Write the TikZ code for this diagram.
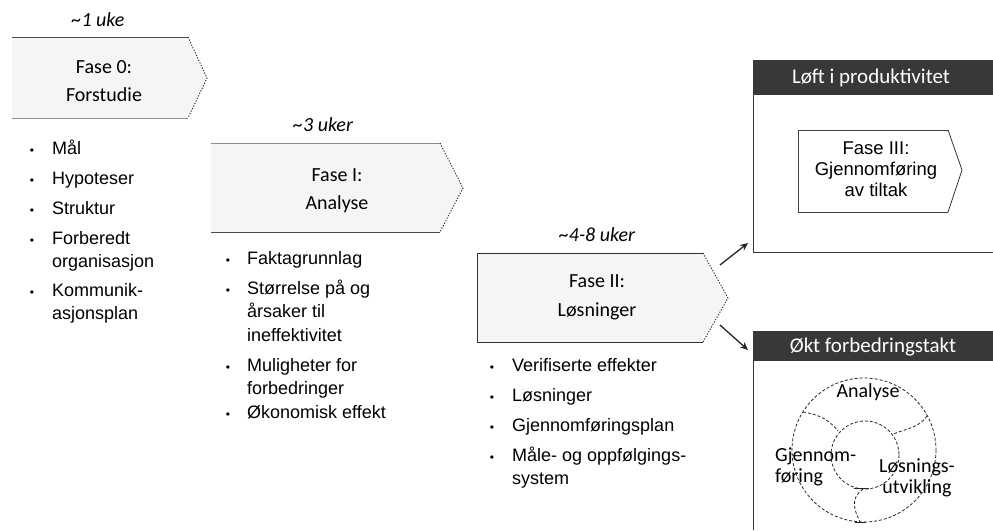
\documentclass[tikz,border=0pt]{standalone}
\usepackage{fontspec}
\setmainfont{Liberation Sans}
\newfontfamily\calfont{Carlito}
\usetikzlibrary{arrows.meta}
\newcommand{\itemlines}[1]{\begin{tabular}[t]{@{}l@{}}#1\end{tabular}}
\begin{document}
\begin{tikzpicture}[x=1pt,y=-1pt,
  boxfill/.style={fill=black!4, draw=none},
  solidedge/.style={draw=black!70, line width=1pt},
  dotedge/.style={draw=black!85, line width=0.9pt, dash pattern=on 1.2pt off 1.6pt},
  phase/.style={font=\calfont\fontsize{20}{28}\selectfont, align=center, inner sep=0pt},
  dur/.style={font=\calfont\itshape\fontsize{20}{24}\selectfont, inner sep=0pt},
  btext/.style={font=\fontsize{18}{23.5}\selectfont, anchor=base west, inner sep=0pt},
  bdot/.style={font=\fontsize{12}{12}\selectfont, anchor=base, inner sep=0pt},
  hdr/.style={fill=black!78, draw=none},
  hdrtext/.style={font=\calfont\fontsize{21}{24}\selectfont, text=white, inner sep=0pt},
  ring/.style={draw=black!85, line width=0.8pt, dash pattern=on 3pt off 2pt},
  ringtext/.style={font=\calfont\fontsize{20}{20.5}\selectfont, inner sep=0pt},
  flow/.style={draw=black!85, line width=1.3pt, -{Stealth[length=8pt,width=7pt]}}
]
\useasboundingbox (0,0) rectangle (993,530);

% ---------- Fase 0 ----------
\path[boxfill] (12,37) -- (188,37) -- (207,78) -- (188,118) -- (12,118) -- cycle;
\draw[solidedge] (12,37) -- (188,37);
\draw[solidedge, draw=black!45] (12,118) -- (188,118);
\draw[dotedge] (188,37) -- (207,78) -- (188,118);
\node[dur] (d0) at (98,20) {\textasciitilde1 uke};
\node[phase] (f0) at (104,81) {Fase 0:\\Forstudie};

% ---------- Fase I ----------
\path[boxfill] (211,143) -- (440,143) -- (463,188) -- (440,232) -- (211,232) -- cycle;
\draw[solidedge, draw=black!45] (211,143) -- (440,143);
\draw[solidedge] (211,232) -- (440,232);
\draw[dotedge] (440,143) -- (463,188) -- (440,232);
\node[dur] (d1) at (323,125) {\textasciitilde3 uker};
\node[phase] (f1) at (337,191) {Fase I:\\Analyse};

% ---------- Fase II ----------
\path[boxfill] (477,253) -- (703,253) -- (728,298) -- (703,342) -- (477,342) -- cycle;
\draw[solidedge, draw=black!80] (703,253) -- (477,253) -- (477,342) -- (703,342);
\draw[dotedge] (703,253) -- (728,298) -- (703,342);
\node[dur] (d2) at (597,235) {\textasciitilde4-8 uker};
\node[phase, font=\calfont\fontsize{20}{29}\selectfont] (f2) at (597,297) {Fase II:\\Løsninger};

% ---------- bullets Fase 0 ----------
\node[bdot] (b01) at (32,154) {\textbullet};
\node[btext] (t01) at (52,154) {Mål};
\node[bdot] (b02) at (32,184) {\textbullet};
\node[btext] (t02) at (52,184) {Hypoteser};
\node[bdot] (b03) at (32,214) {\textbullet};
\node[btext] (t03) at (52,214) {Struktur};
\node[bdot] (b04) at (32,244) {\textbullet};
\node[btext] (t04) at (52,244) {\itemlines{Forberedt\\organisasjon}};
\node[bdot] (b05) at (32,296) {\textbullet};
\node[btext] (t05) at (52,296) {\itemlines{Kommunik-\\asjonsplan}};

% ---------- bullets Fase I ----------
\node[bdot] (b11) at (228,264) {\textbullet};
\node[btext] (t11) at (247,264) {Faktagrunnlag};
\node[bdot] (b12) at (228,294) {\textbullet};
\node[btext] (t12) at (247,294) {\itemlines{Størrelse på og\\årsaker til\\ineffektivitet}};
\node[bdot] (b13) at (228,371) {\textbullet};
\node[btext] (t13) at (247,371) {\itemlines{Muligheter for\\forbedringer}};
\node[bdot] (b14) at (228,418) {\textbullet};
\node[btext] (t14) at (247,418) {Økonomisk effekt};

% ---------- bullets Fase II ----------
\node[bdot] (b21) at (492,371) {\textbullet};
\node[btext] (t21) at (512,371) {Verifiserte effekter};
\node[bdot] (b22) at (492,401) {\textbullet};
\node[btext] (t22) at (512,401) {Løsninger};
\node[bdot] (b23) at (492,431) {\textbullet};
\node[btext] (t23) at (512,431) {Gjennomføringsplan};
\node[bdot] (b24) at (492,461) {\textbullet};
\node[btext] (t24) at (512,461) {\itemlines{Måle- og oppfølgings-\\system}};

% ---------- Løft i produktivitet ----------
\path[hdr] (753,60) rectangle (993,95);
\node[hdrtext] (h1) at (871,78) {Løft i produktivitet};
\draw[draw=black!80, line width=1pt] (753,95) -- (753,252) -- (993,252);
\draw[draw=black!75, line width=0.8pt] (948,130) -- (798,130) -- (798,212) -- (948,212);
\draw[draw=black!80, line width=0.8pt] (948,130) -- (962,170) -- (948,212);
\node[font=\fontsize{18.5}{21}\selectfont, align=center, inner sep=0pt] (f3) at (876,169) {Fase III:\\Gjennomføring\\av tiltak};

% ---------- Økt forbedringstakt ----------
\path[hdr] (753,331) rectangle (993,361);
\node[hdrtext] (h2) at (873,347) {Økt forbedringstakt};
\draw[draw=black!80, line width=1pt] (753,361) -- (753,530);

% ring
\draw[ring] (864,450) circle[radius=72];
\draw[ring] (865,455) circle[radius=34];
\draw[ring] (803,412) .. controls (816,414) and (828,418) .. (838,431);
\draw[ring] (927,416) .. controls (920,427) and (906,429) .. (893,434);
\draw[ring] (863,489) .. controls (849,499) and (855,511) .. (860,522);
\draw[draw=black!85, line width=0.8pt] (854,488) -- (869,488);
\draw[draw=black!85, line width=0.8pt] (855,522) -- (866,522);
\node[ringtext] (r1) at (868,392) {Analyse};
\node[ringtext, align=left, anchor=west] (r2) at (775,467) {Gjennom-\\føring};
\node[ringtext, align=center] (r3) at (917,478) {Løsnings-\\utvikling};

% arrows
\coordinate (a1s) at (720,265);
\coordinate (a1e) at (748,243);
\coordinate (a2s) at (720,325);
\coordinate (a2e) at (748,350);
\draw[flow] (a1s) -- (a1e);
\draw[flow] (a2s) -- (a2e);
\end{tikzpicture}
\end{document}
